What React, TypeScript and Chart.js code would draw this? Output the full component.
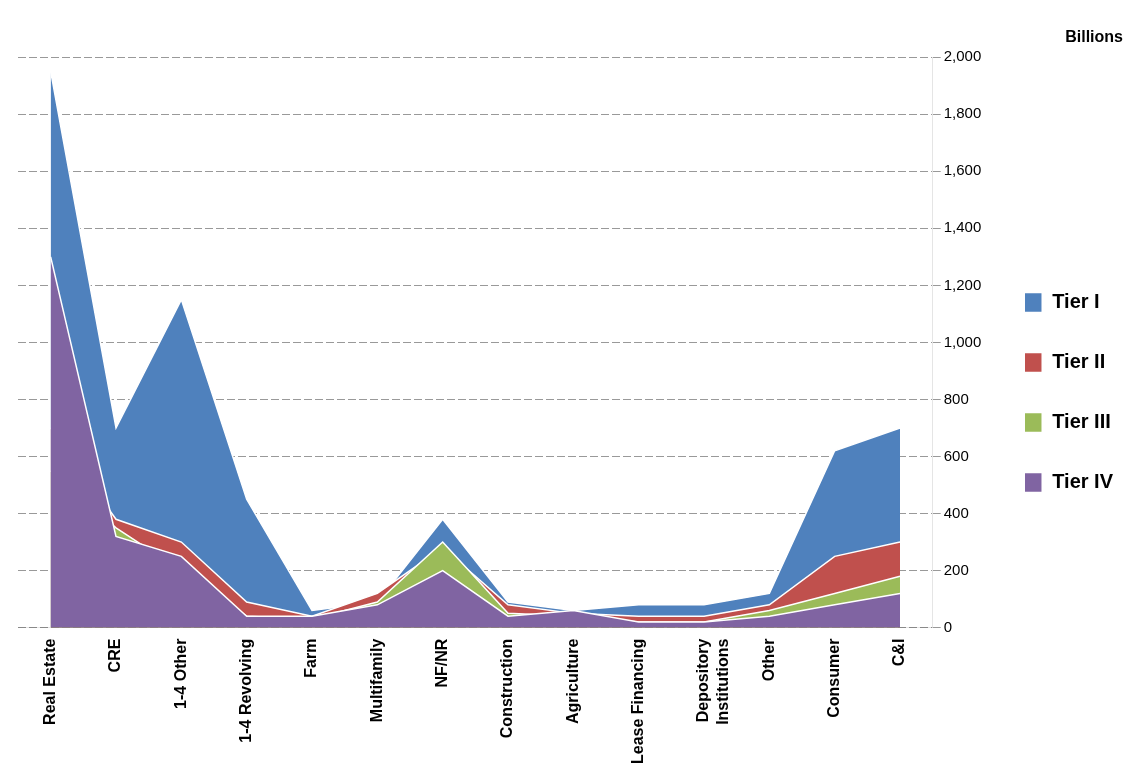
import Chart from 'chart.js/auto';
import { useEffect, useRef } from 'react';

const categories = [
  'Real Estate', 'CRE', '1-4 Other', '1-4 Revolving', 'Farm', 'Multifamily', 'NF/NR',
  'Construction', 'Agriculture', 'Lease Financing', ['Depository', 'Institutions'], 'Other', 'Consumer', 'C&I',
];
const tierI = [1950, 700, 1150, 450, 60, 90, 380, 90, 60, 80, 80, 120, 620, 700];
const tierII = [700, 380, 300, 90, 40, 120, 280, 80, 50, 40, 40, 80, 250, 300];
const tierIII = [550, 350, 200, 40, 30, 90, 300, 50, 40, 20, 20, 60, 120, 180];
const tierIV = [1300, 320, 250, 40, 40, 80, 200, 40, 60, 20, 20, 40, 80, 120];
const tiers = ['Tier I', 'Tier II', 'Tier III', 'Tier IV'];
const tierColors = ['#4f81bd', '#c0504d', '#9bbb59', '#8064a2'];

export default function App() {
  const ref = useRef<HTMLCanvasElement | null>(null);

  useEffect(() => {
    if (!ref.current) return;
    const series = [tierI, tierII, tierIII, tierIV];
    const chart = new Chart(ref.current, {
      type: 'line',
      data: {
        labels: categories,
        datasets: series.map((d, i) => ({
          label: tiers[i],
          data: d,
          borderColor: '#ffffff',
          borderWidth: 1.5,
          backgroundColor: tierColors[i],
          fill: 'origin',
          pointRadius: 0,
          tension: 0,
          order: -i,
        })),
      },
      options: {
        animation: false,
        responsive: false,
        layout: { padding: { top: 10, left: 10, right: 10 } },
        plugins: {
          title: {
            display: true,
            text: 'Billions',
            align: 'end',
            font: { family: 'Liberation Sans', size: 16, weight: 'bold' },
            color: '#000',
          },
          legend: {
            position: 'right',
            labels: {
              font: { family: 'Liberation Sans', size: 20, weight: 'bold' },
              color: '#000',
              boxWidth: 18,
              padding: 40,
              sort: (a: any, b: any) => a.datasetIndex - b.datasetIndex,
            },
          },
          tooltip: { enabled: false },
        },
        scales: {
          x: {
            offset: true,
            grid: { display: false },
            ticks: {
              maxRotation: 90,
              minRotation: 90,
              font: { family: 'Liberation Sans', size: 16, weight: 'bold' },
              color: '#000',
            },
          },
          y: {
            position: 'right',
            min: 0,
            max: 2000,
            ticks: { stepSize: 200, font: { family: 'Liberation Sans', size: 15 }, color: '#000' },
            grid: { color: '#999' },
            border: { dash: [8, 3] },
          },
        },
      },
    });
    return () => chart.destroy();
  }, []);

  return <canvas ref={ref} width={1125} height={759} />;
}
